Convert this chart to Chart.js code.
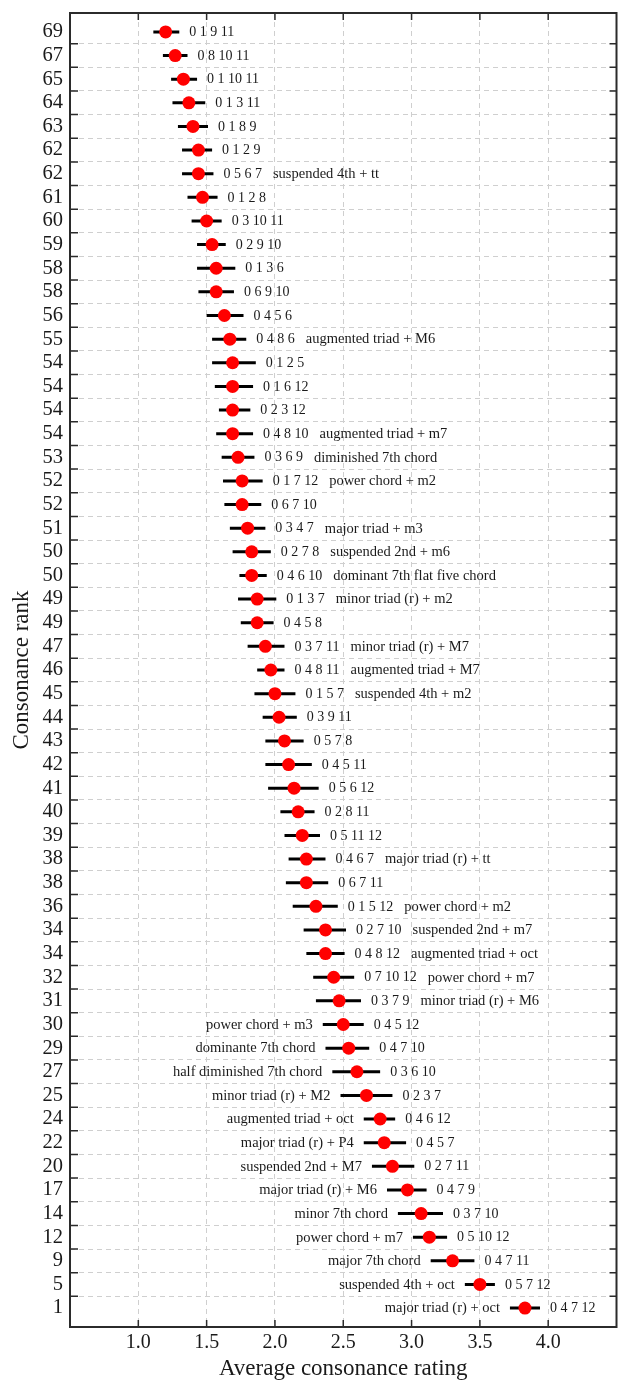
<!DOCTYPE html>
<html>
<head>
<meta charset="utf-8">
<script src="https://cdn.jsdelivr.net/npm/chart.js@4"></script>
<style>
  html, body { margin: 0; padding: 0; background: #fff; }
  .chart-box { width: 623px; height: 1381px; position: relative; }
</style>
</head>
<body>
<div class="chart-box"><canvas id="rank-chart"></canvas></div>
<script>
const ranks = [69, 67, 65, 64, 63, 62, 62, 61, 60, 59, 58, 58, 56, 55, 54, 54, 54, 54, 53, 52,
  52, 51, 50, 50, 49, 49, 47, 46, 45, 44, 43, 42, 41, 40, 39, 38, 38, 36, 34, 34,
  32, 31, 30, 29, 27, 25, 24, 22, 20, 17, 14, 12, 9, 5, 1];

const chordSets = ['0 1 9 11', '0 8 10 11', '0 1 10 11', '0 1 3 11', '0 1 8 9', '0 1 2 9',
  '0 5 6 7', '0 1 2 8', '0 3 10 11', '0 2 9 10', '0 1 3 6', '0 6 9 10', '0 4 5 6', '0 4 8 6',
  '0 1 2 5', '0 1 6 12', '0 2 3 12', '0 4 8 10', '0 3 6 9', '0 1 7 12', '0 6 7 10', '0 3 4 7',
  '0 2 7 8', '0 4 6 10', '0 1 3 7', '0 4 5 8', '0 3 7 11', '0 4 8 11', '0 1 5 7', '0 3 9 11',
  '0 5 7 8', '0 4 5 11', '0 5 6 12', '0 2 8 11', '0 5 11 12', '0 4 6 7', '0 6 7 11', '0 1 5 12',
  '0 2 7 10', '0 4 8 12', '0 7 10 12', '0 3 7 9', '0 4 5 12', '0 4 7 10', '0 3 6 10', '0 2 3 7',
  '0 4 6 12', '0 4 5 7', '0 2 7 11', '0 4 7 9', '0 3 7 10', '0 5 10 12', '0 4 7 11', '0 5 7 12',
  '0 4 7 12'];

const chordNames = ['', '', '', '', '', '', 'suspended 4th + tt', '', '', '', '', '', '',
  'augmented triad + M6', '', '', '', 'augmented triad + m7', 'diminished 7th chord',
  'power chord + m2', '', 'major triad + m3', 'suspended 2nd + m6', 'dominant 7th flat five chord',
  'minor triad (r) + m2', '', 'minor triad (r) + M7', 'augmented triad + M7', 'suspended 4th + m2',
  '', '', '', '', '', '', 'major triad (r) + tt', '', 'power chord + m2', 'suspended 2nd + m7',
  'augmented triad + oct', 'power chord + m7', 'minor triad (r) + M6', 'power chord + m3',
  'dominante 7th chord', 'half diminished 7th chord', 'minor triad (r) + M2', 'augmented triad + oct',
  'major triad (r) + P4', 'suspended 2nd + M7', 'major triad (r) + M6', 'minor 7th chord',
  'power chord + m7', 'major 7th chord', 'suspended 4th + oct', 'major triad (r) + oct'];

const meanRating = [1.20, 1.27, 1.33, 1.37, 1.40, 1.44, 1.44, 1.47, 1.50, 1.54, 1.57, 1.57, 1.63,
  1.67, 1.69, 1.69, 1.69, 1.69, 1.73, 1.76, 1.76, 1.80, 1.83, 1.83, 1.87, 1.87, 1.93, 1.97, 2.00,
  2.03, 2.07, 2.10, 2.14, 2.17, 2.20, 2.23, 2.23, 2.30, 2.37, 2.37, 2.43, 2.47, 2.50, 2.54, 2.60,
  2.67, 2.77, 2.80, 2.86, 2.97, 3.07, 3.13, 3.30, 3.50, 3.83];

const lowerCI = [1.11, 1.18, 1.24, 1.25, 1.29, 1.32, 1.32, 1.36, 1.39, 1.43, 1.43, 1.44, 1.50,
  1.54, 1.54, 1.56, 1.59, 1.57, 1.61, 1.62, 1.63, 1.67, 1.69, 1.74, 1.73, 1.75, 1.80, 1.87, 1.85,
  1.91, 1.93, 1.93, 1.95, 2.04, 2.07, 2.10, 2.08, 2.13, 2.21, 2.23, 2.28, 2.30, 2.35, 2.37, 2.42,
  2.48, 2.65, 2.65, 2.71, 2.82, 2.90, 3.01, 3.14, 3.39, 3.72];

const upperCI = [1.30, 1.36, 1.43, 1.49, 1.51, 1.54, 1.55, 1.58, 1.61, 1.64, 1.71, 1.70, 1.77,
  1.79, 1.86, 1.84, 1.82, 1.84, 1.85, 1.91, 1.90, 1.93, 1.97, 1.94, 2.01, 1.99, 2.07, 2.07, 2.15,
  2.16, 2.21, 2.27, 2.32, 2.29, 2.33, 2.37, 2.39, 2.46, 2.52, 2.51, 2.58, 2.63, 2.65, 2.69, 2.77,
  2.86, 2.88, 2.96, 3.02, 3.11, 3.23, 3.26, 3.46, 3.61, 3.94];

const ratingTicks = [1.0, 1.5, 2.0, 2.5, 3.0, 3.5, 4.0];

// rows from here down carry their name on the left of the bar
const NAME_LEFT_FROM = 42;
const SERIF = '"Liberation Serif", "Times New Roman", serif';

const meanPoints = meanRating.map((v, i) => ({ x: v, y: i }));
const ciPoints = [];
lowerCI.forEach((lo, i) => {
  ciPoints.push({ x: lo, y: i }, { x: upperCI[i], y: i }, { x: null, y: null });
});

const labelsPlugin = {
  id: 'chordLabels',
  afterDatasetsDraw(chart) {
    const { ctx, scales: { x, y } } = chart;
    ctx.save();
    ctx.fillStyle = '#1a1a1a';
    ctx.textBaseline = 'middle';
    chordSets.forEach((set, i) => {
      const py = y.getPixelForValue(i) + 0.5;
      const setX = x.getPixelForValue(upperCI[i]) + 10;
      ctx.font = '14px ' + SERIF;
      ctx.textAlign = 'left';
      ctx.fillText(set, setX, py);
      const name = chordNames[i];
      if (!name) return;
      const w = ctx.measureText(set).width;
      ctx.font = '14.5px ' + SERIF;
      if (i >= NAME_LEFT_FROM) {
        ctx.textAlign = 'right';
        ctx.fillText(name, x.getPixelForValue(lowerCI[i]) - 10, py);
      } else {
        ctx.fillText(name, setX + w + 11, py);
      }
    });
    ctx.restore();
  },
};

const framePlugin = {
  id: 'frame',
  afterDraw(chart) {
    const { ctx, chartArea: a, scales: { x, y } } = chart;
    ctx.save();
    ctx.strokeStyle = '#2b2b2b';
    ctx.lineWidth = 1.5;
    ctx.beginPath();
    x.ticks.forEach((t) => {
      const px = x.getPixelForValue(t.value);
      ctx.moveTo(px, a.top); ctx.lineTo(px, a.top + 7);
      ctx.moveTo(px, a.bottom); ctx.lineTo(px, a.bottom - 7);
    });
    y.ticks.forEach((t) => {
      if (Number.isInteger(t.value)) return;
      const py = y.getPixelForValue(t.value);
      ctx.moveTo(a.left, py); ctx.lineTo(a.left + 8, py);
      ctx.moveTo(a.right, py); ctx.lineTo(a.right - 7, py);
    });
    ctx.stroke();
    ctx.lineWidth = 2;
    ctx.strokeRect(a.left, a.top, a.right - a.left, a.bottom - a.top);
    ctx.restore();
  },
};

const ctx = document.getElementById('rank-chart').getContext('2d');

// eslint-disable-next-line no-unused-vars
const rankChart = new Chart(ctx, {
  type: 'scatter',
  data: {
    datasets: [
      {
        label: 'Average rating',
        data: meanPoints,
        pointRadius: 6.5,
        pointBackgroundColor: '#ff0000',
        pointBorderWidth: 0,
        showLine: false,
      },
      {
        label: 'Interval',
        data: ciPoints,
        showLine: true,
        spanGaps: false,
        borderColor: '#000',
        borderWidth: 3,
        borderCapStyle: 'butt',
        pointRadius: 0,
        fill: false,
      },
    ],
  },
  plugins: [labelsPlugin, framePlugin],
  options: {
    responsive: true,
    maintainAspectRatio: false,
    animation: false,
    layout: { padding: { top: 13, right: 6, left: 0, bottom: 0 } },
    plugins: {
      legend: { display: false },
      tooltip: { enabled: false },
    },
    scales: {
      x: {
        type: 'linear',
        min: 0.5,
        max: 4.5,
        afterBuildTicks(scale) {
          scale.ticks = ratingTicks.map((v) => ({ value: v }));
        },
        afterFit(scale) {
          scale.height = 54;
          scale.paddingLeft = 0;
          scale.paddingRight = 0;
        },
        grid: { color: '#cfcfcf', lineWidth: 1, drawTicks: false },
        border: { display: false, dash: [5, 4] },
        ticks: {
          padding: 4,
          color: '#1a1a1a',
          font: { family: SERIF, size: 20 },
          callback: (v) => Number(v).toFixed(1),
        },
        title: {
          display: true,
          text: 'Average consonance rating',
          color: '#1a1a1a',
          font: { family: SERIF, size: 23, lineHeight: 1 },
          padding: { top: 0, bottom: 1 },
        },
      },
      y: {
        type: 'linear',
        reverse: true,
        min: -0.8,
        max: ranks.length - 0.2,
        afterBuildTicks(scale) {
          const t = [];
          for (let k = 0; k <= (ranks.length - 1) * 2; k++) t.push({ value: k / 2 });
          scale.ticks = t;
        },
        afterFit(scale) {
          scale.width = 70;
          scale.paddingTop = 0;
          scale.paddingBottom = 0;
        },
        grid: {
          drawTicks: false,
          lineWidth: 1,
          color: (c) => (c.tick && !Number.isInteger(c.tick.value) ? '#cfcfcf' : 'rgba(0,0,0,0)'),
        },
        border: { display: false, dash: [5, 4] },
        ticks: {
          autoSkip: false,
          padding: 7,
          color: '#1a1a1a',
          font: { family: SERIF, size: 20.5 },
          callback: (v) => (Number.isInteger(v) ? String(ranks[v]) : ''),
        },
        title: {
          display: true,
          text: 'Consonance rank',
          color: '#1a1a1a',
          font: { family: SERIF, size: 23, lineHeight: 1 },
          padding: { top: 10, bottom: 0 },
        },
      },
    },
  },
});
</script>
</body>
</html>
